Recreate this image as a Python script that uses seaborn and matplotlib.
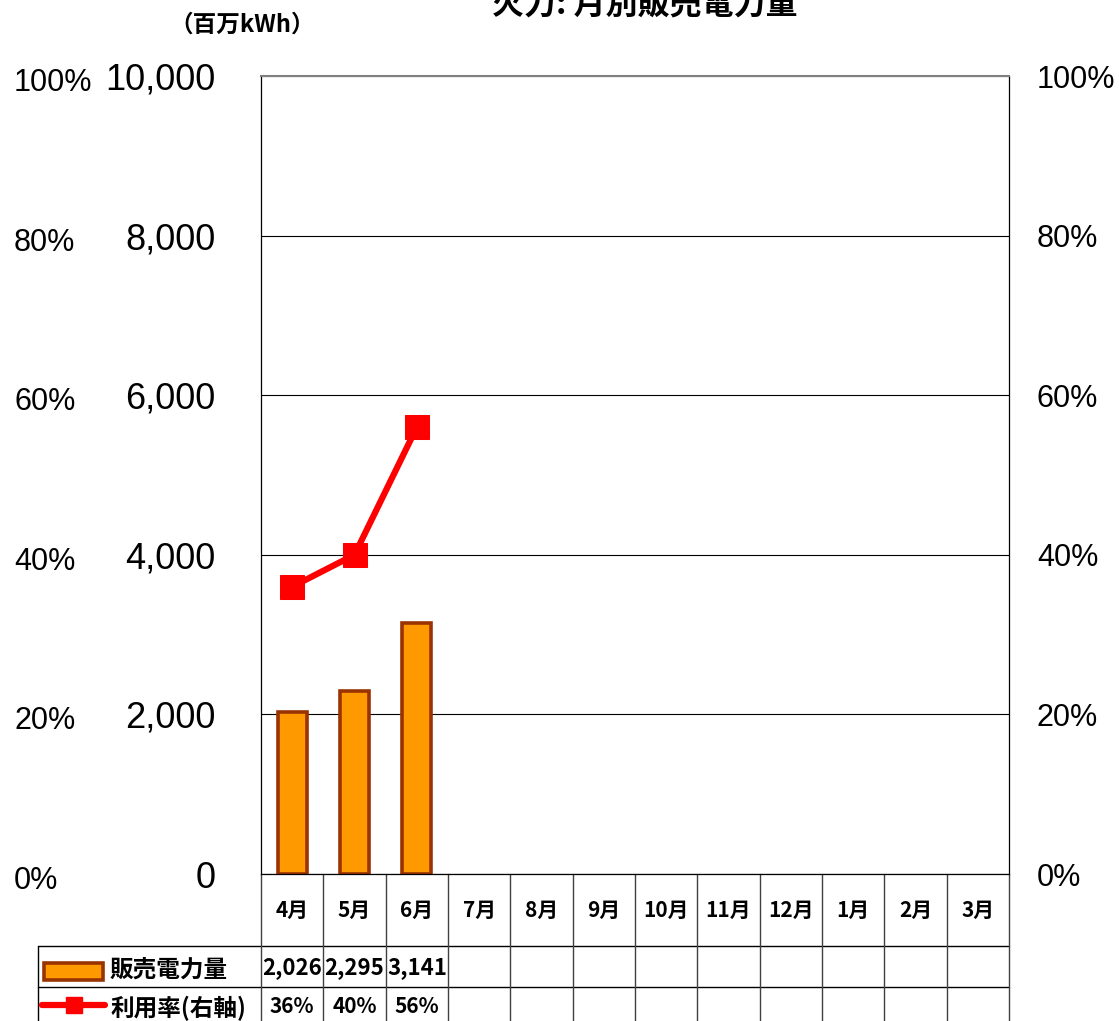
import numpy as np
import pandas as pd
import matplotlib
matplotlib.use("Agg")
import matplotlib.pyplot as plt
import matplotlib.transforms as mtransforms
from matplotlib.lines import Line2D
from matplotlib.patches import Rectangle
import seaborn as sns

# ---- data ----
months = ['4月', '5月', '6月', '7月', '8月', '9月', '10月', '11月', '12月', '1月', '2月', '3月']
sales = [2026, 2295, 3141]          # 販売電力量 (百万kWh)
util = [36, 40, 56]                 # 利用率 (%)
left_ticks = [0, 2000, 4000, 6000, 8000, 10000]
pct_ticks = [0, 20, 40, 60, 80, 100]
title = '火力: 月別販売電力量'
unit_label = '（百万kWh）'
legend_labels = ['販売電力量', '利用率(右軸)']

sns.set_style('white')
cjk = ['Noto Sans CJK JP', 'DejaVu Sans']
plt.rcParams['font.family'] = cjk
plt.rcParams['text.color'] = 'black'
plt.rcParams['ytick.color'] = 'black'
plt.rcParams['xtick.color'] = 'black'
latin = 'Liberation Sans'

W, H = 1119, 1021
fig = plt.figure(figsize=(W / 100, H / 100), dpi=100)
L, R, T, B = 261, 1009, 76, 874
ax = fig.add_axes([L / W, 1 - B / H, (R - L) / W, (B - T) / H])

df = pd.DataFrame({'month': months[:len(sales)], 'sales': sales})
sns.barplot(data=df, x='month', y='sales', order=months, ax=ax, color='#FF9900',
            edgecolor='#993300', linewidth=2.6, width=0.47, saturation=1)
ax.set_xlim(-0.5, len(months) - 0.5)
ax.set_ylim(left_ticks[0], left_ticks[-1])
ax.set_yticks(left_ticks)
ax.set_yticklabels([f'{v:,}' for v in left_ticks], family=latin, fontsize=26, color='black')
ax.tick_params(axis='y', length=0, pad=33)
ax.set_xticks([])
ax.set_xlabel('')
ax.set_ylabel('')
ax.yaxis.grid(True, color='black', lw=0.8)
ax.set_axisbelow(True)
for s in ['left', 'right', 'bottom']:
    ax.spines[s].set_color('black')
    ax.spines[s].set_linewidth(0.9)
ax.spines['top'].set_color('#808080')
ax.spines['top'].set_linewidth(1.5)

# right axis (utilisation)
ax2 = ax.twinx()
sns.lineplot(x=np.arange(len(util)), y=np.array(util) / 100, ax=ax2, color='#FF0000',
             lw=4.5, marker='s', markersize=17, markeredgecolor='#FF0000')
ax2.set_ylim(0, 1)
ax2.set_yticks([p / 100 for p in pct_ticks])
ax2.set_yticklabels([f'{p}%' for p in pct_ticks], family=latin, fontsize=22, color='black')
ax2.tick_params(axis='y', length=0, pad=20)
ax2.set_ylabel('')
for s in ax2.spines.values():
    s.set_visible(False)

# far-left percentage labels (second left scale)
ax3 = ax.twinx()
ax3.set_ylim(0, 100)
ax3.set_yticks([])
for s in ax3.spines.values():
    s.set_visible(False)
tr3 = mtransforms.blended_transform_factory(fig.transFigure, ax3.transData)
tr3 = mtransforms.offset_copy(tr3, fig=fig, x=0, y=-7, units='dots')
for p in pct_ticks:
    ax3.text(14 / W, p, f'{p}%', transform=tr3, ha='left', va='center',
             family=latin, fontsize=22, color='black', clip_on=False)

# ---- data table ----
ph = B - T
def yf(py):
    return (B - py) / ph
xt = ax.get_xaxis_transform()
row_y = [910, 968, 1006]
lines_y = [946, 987]
left_x = (38 - L) / (R - L)
for py in lines_y:
    ax.plot([left_x, 1], [yf(py), yf(py)], transform=ax.transAxes, color='black', lw=1, clip_on=False)
ax.plot([left_x, left_x], [yf(946), yf(1030)], transform=ax.transAxes, color='black', lw=1, clip_on=False)
for i in range(len(months) + 1):
    ax.plot([i - 0.5, i - 0.5], [0, yf(1030)], transform=xt, color='#404040', lw=1, clip_on=False)
for i, m in enumerate(months):
    ax.text(i, yf(row_y[0]), m, transform=xt, ha='center', va='center', fontsize=15, fontweight='bold')
for i, v in enumerate(sales):
    ax.text(i, yf(row_y[1]), f'{v:,}', transform=xt, ha='center', va='center', fontsize=16, fontweight='bold')
for i, u in enumerate(util):
    ax.text(i, yf(row_y[2]), f'{u}%', transform=xt, ha='center', va='center', fontsize=15, fontweight='bold')

# legend symbols inside table
fig.patches.append(Rectangle((44 / W, 1 - 980 / H), 59 / W, 17 / H, transform=fig.transFigure,
                             facecolor='#FF9900', edgecolor='#993300', lw=2.6))
fig.lines.append(Line2D([42 / W, 105 / W], [1 - 1005 / H] * 2, transform=fig.transFigure,
                        color='#FF0000', lw=4.5))
fig.lines.append(Line2D([74 / W], [1 - 1005 / H], transform=fig.transFigure, color='#FF0000',
                        marker='s', markersize=12, lw=0))
fig.text(110 / W, 1 - 970 / H, legend_labels[0], ha='left', va='center', fontsize=17, fontweight='bold')
fig.text(110 / W, 1 - 1008 / H, legend_labels[1], ha='left', va='center', fontsize=17, fontweight='bold')

# titles
fig.text(645 / W, 1 - 6 / H, title, ha='center', va='center', fontsize=23, fontweight='bold')
fig.text(242 / W, 1 - 25 / H, unit_label, ha='center', va='center', fontsize=17, fontweight='bold')

fig.savefig('out.png', dpi=100)
